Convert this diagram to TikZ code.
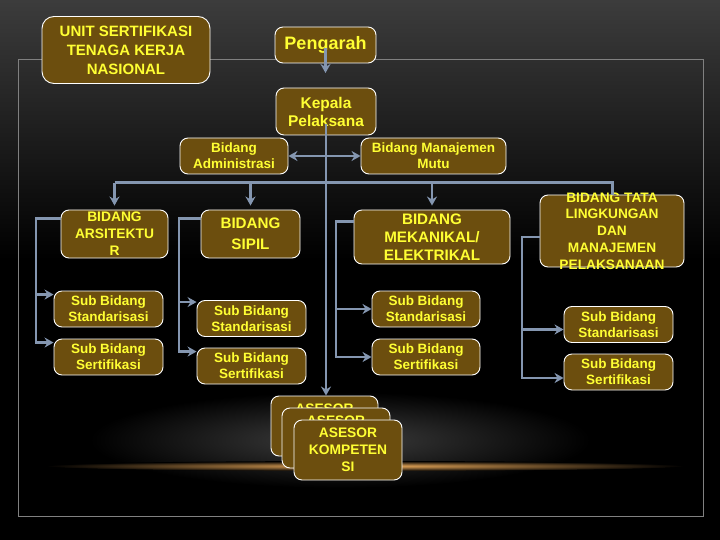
\documentclass[tikz,border=0pt]{standalone}
\usepackage{fontspec}
\setmainfont{Liberation Sans}
\usetikzlibrary{arrows.meta}

\definecolor{boxbrown}{RGB}{108,78,14}
\definecolor{boxyellow}{RGB}{255,255,51}
\definecolor{linkgray}{RGB}{132,150,176}
\definecolor{framegray}{RGB}{128,128,128}

\begin{document}
\begin{tikzpicture}[x=1pt,y=-1pt,
  box/.style={draw=white, line width=0.9pt, fill=boxbrown, rounded corners=8pt,
    inner sep=0pt, align=center, text=boxyellow,
    font=\bfseries\fontsize{13.5}{16}\selectfont},
  subbox/.style={box, minimum width=109pt, minimum height=36pt},
  asbox/.style={box, minimum width=108pt, minimum height=60pt,
    font=\bfseries\fontsize{13.8}{17}\selectfont},
  link/.style={draw=linkgray, line width=2.5pt},
  linkarrow/.style={-{Stealth[length=9pt,width=10pt]}}]
\useasboundingbox (0,0) rectangle (720,540);
% background
\fill[black] (0,0) rectangle (720,540);
\shade[top color={rgb,255:red,60;green,60;blue,60}, bottom color=black] (0,0) rectangle (720,260);
\shade[inner color={rgb,255:red,62;green,62;blue,62}, outer color=black] (340,440) ellipse (250 and 48);
\shade[inner color={rgb,255:red,235;green,170;blue,90}, outer color=black] (365,466) ellipse (320 and 5);
\draw[framegray, line width=1pt] (18,60) rectangle (703,516);

% top level
\node[box, rounded corners=12pt, minimum width=168pt, minimum height=67pt,
  font=\bfseries\fontsize{15}{19}\selectfont] (unit) at (126,50) {UNIT SERTIFIKASI\\TENAGA KERJA\\NASIONAL};
\node[box, minimum width=101pt, minimum height=36pt,
  font=\bfseries\fontsize{18}{21}\selectfont] (peng) at (325.5,45) {Pengarah};
\node[box, minimum width=100pt, minimum height=47pt,
  font=\bfseries\fontsize{15.5}{18}\selectfont] (kep) at (326,111.5) {Kepala\\Pelaksana};
\node[box, minimum width=108pt, minimum height=36pt] (adm) at (234,156) {Bidang\\Administrasi};
\node[box, minimum width=145pt, minimum height=36pt] (mutu) at (433.5,156) {Bidang Manajemen\\Mutu};

% bidang
\node[box, minimum width=107pt, minimum height=48pt,
  font=\bfseries\fontsize{13.8}{17}\selectfont] (ars) at (114.5,234) {BIDANG\\ARSITEKTU\\R};
\node[box, minimum width=99pt, minimum height=48pt,
  font=\bfseries\fontsize{15.2}{21}\selectfont] (sip) at (250.5,234) {BIDANG\\SIPIL};
\node[box, minimum width=156pt, minimum height=54pt,
  font=\bfseries\fontsize{15.2}{18}\selectfont] (mek) at (432,237) {BIDANG\\MEKANIKAL/\\ELEKTRIKAL};
\node[box, minimum width=144pt, minimum height=72pt] (tata) at (612,231) {};
\node[text=boxyellow, align=center, inner sep=0pt,
  font=\bfseries\fontsize{13.7}{16.75}\selectfont] (tatatext) at (tata.center) {BIDANG TATA\\LINGKUNGAN\\DAN\\MANAJEMEN\\PELAKSANAAN};

% sub bidang
\node[subbox] (arsstd) at (108.5,309) {Sub Bidang\\Standarisasi};
\node[subbox] (arssert) at (108.5,357) {Sub Bidang\\Sertifikasi};
\node[subbox] (sipstd) at (251.5,318.5) {Sub Bidang\\Standarisasi};
\node[subbox] (sipsert) at (251.5,366) {Sub Bidang\\Sertifikasi};
\node[subbox, minimum width=108pt] (mekstd) at (426,309) {Sub Bidang\\Standarisasi};
\node[subbox, minimum width=108pt] (meksert) at (426,357) {Sub Bidang\\Sertifikasi};
\node[subbox] (tatastd) at (618.5,324.5) {Sub Bidang\\Standarisasi};
\node[subbox] (tatasert) at (618.5,372) {Sub Bidang\\Sertifikasi};

% asesor stack
\node[asbox, minimum width=107pt] (as1) at (324.5,426) {ASESOR\\KOMPETEN\\SI};
\node[asbox] (as2) at (336,438) {ASESOR\\KOMPETEN\\SI};
\node[asbox] (as3) at (348,450) {ASESOR\\KOMPETEN\\SI};

% rails
\coordinate (bus) at (0,183);
\coordinate (pengtip) at (0,73);
\coordinate (arsrail) at (36,0);
\coordinate (siprail) at (179,0);
\coordinate (mekrail) at (336,0);
\coordinate (tatarail) at (522,0);

% connectors
\draw[link, linkarrow] ([yshift=-3pt]peng.center) -- (peng.center |- pengtip);
\draw[link, linkarrow] ([yshift=-13pt]kep.center) -- (kep.center |- as1.north);
\draw[link, {Stealth[length=9pt,width=10pt]}-{Stealth[length=9pt,width=10pt]}] (adm.east) -- (mutu.west);
\draw[link, line width=3pt] (ars.north |- bus) -- (tata.north |- bus) -- (tata.north);
\foreach \n in {ars,sip,mek}
  \draw[link, linkarrow, shorten >=4pt] (\n.north |- bus) -- (\n.north);

\draw[link, linkarrow] ([yshift=-9pt]ars.north west) -| ([yshift=-4pt]arsrail |- arssert.north west) -- ([yshift=-4pt]arssert.north west);
\draw[link, linkarrow] ([yshift=-4pt]arsrail |- arsstd.north west) -- ([yshift=-4pt]arsstd.north west);
\draw[link, linkarrow] ([yshift=-9pt]sip.north west) -| ([yshift=-4pt]siprail |- sipsert.north west) -- ([yshift=-4pt]sipsert.north west);
\draw[link, linkarrow] ([yshift=-2pt]siprail |- sipstd.north west) -- ([yshift=-2pt]sipstd.north west);
\draw[link, linkarrow] ([yshift=-12pt]mek.north west) -| (mekrail |- meksert.west) -- (meksert.west);
\draw[link, linkarrow] (mekrail |- mekstd.west) -- (mekstd.west);
\draw[link, linkarrow] ([yshift=-6pt]tata.west) -| ([yshift=-6pt]tatarail |- tatasert.west) -- ([yshift=-6pt]tatasert.west);
\draw[link, linkarrow] ([yshift=-5pt]tatarail |- tatastd.west) -- ([yshift=-5pt]tatastd.west);
\end{tikzpicture}
\end{document}
